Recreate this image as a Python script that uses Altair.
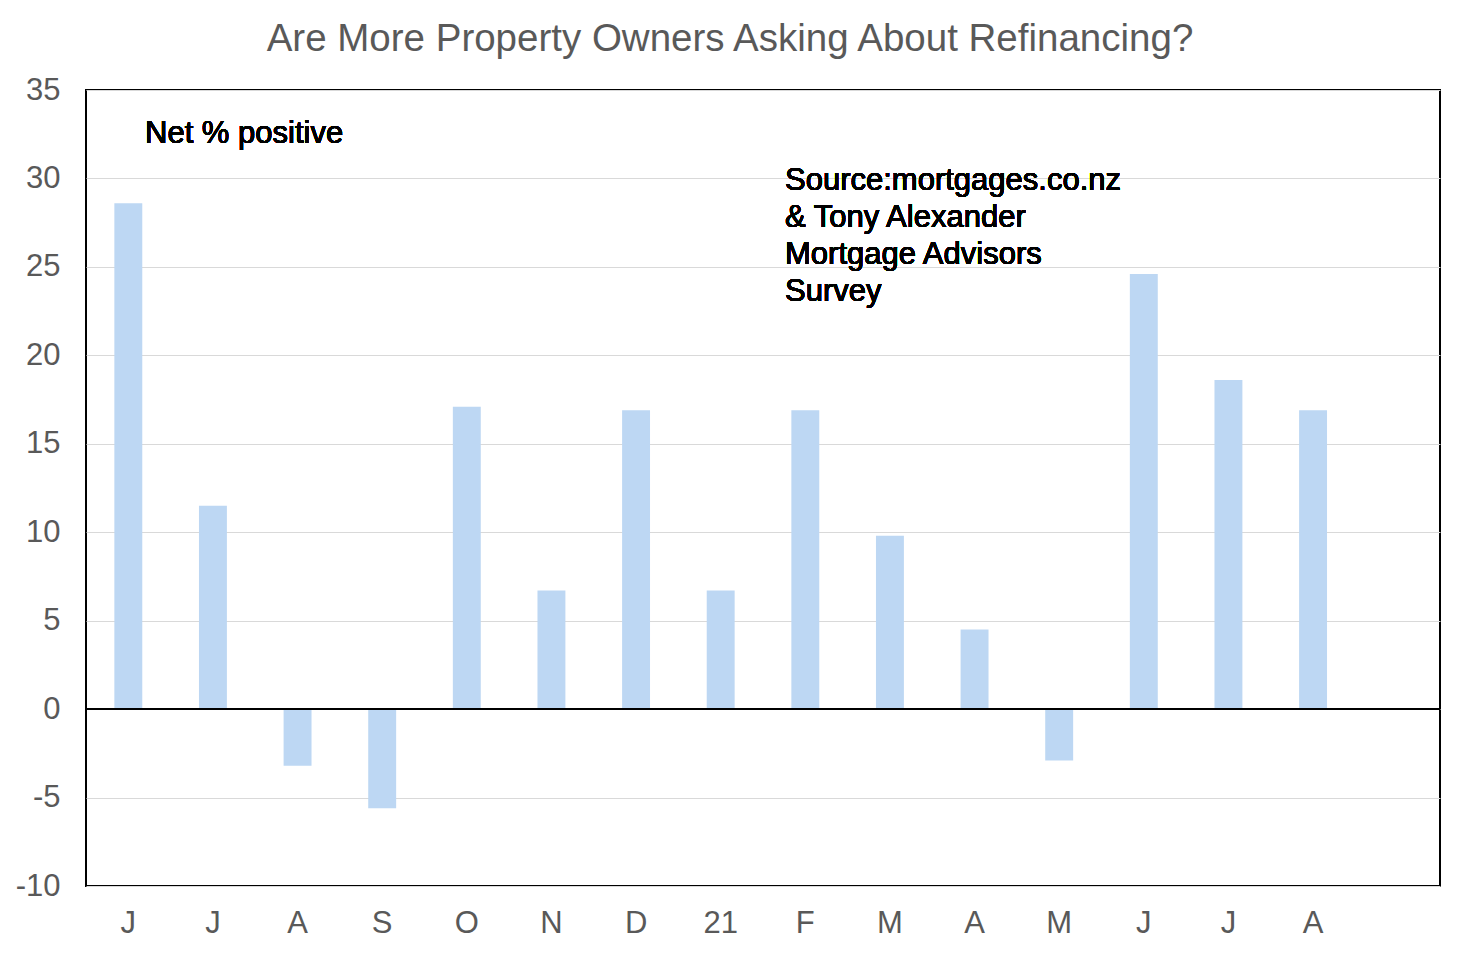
import altair as alt
import pandas as pd

labels = ["J", "J", "A", "S", "O", "N", "D", "21", "F", "M", "A", "M", "J", "J", "A", ""]
values = [28.6, 11.5, -3.2, -5.6, 17.1, 6.7, 16.9, 6.7, 16.9, 9.8, 4.5, -2.9, 24.6, 18.6, 16.9]
y_ticks = [-10, -5, 0, 5, 10, 15, 20, 25, 30, 35]

df = pd.DataFrame({"idx": list(range(len(values))), "value": values})

label_expr = "[" + ",".join("'%s'" % l for l in labels) + "][datum.value]"

FONT = "Liberation Sans"

x_enc = alt.X(
    "idx:O",
    scale=alt.Scale(domain=list(range(len(labels))), paddingInner=0.67, paddingOuter=0.335),
    axis=alt.Axis(
        title=None, labelExpr=label_expr, labelAngle=0, ticks=False, domain=False,
        labelFont=FONT, labelFontSize=31, labelColor="#595959", labelPadding=22,
    ),
)
y_enc = alt.Y(
    "value:Q",
    scale=alt.Scale(domain=[-10, 35], nice=False, zero=False),
    axis=alt.Axis(
        title=None, values=y_ticks, ticks=False, domain=False, grid=True,
        gridColor="#d9d9d9", gridWidth=1, labelExpr="'' + datum.value",
        labelFont=FONT, labelFontSize=31, labelColor="#595959", labelPadding=26,
    ),
)

bars = alt.Chart(df).mark_bar(color="#BDD7F3").encode(x=x_enc, y=y_enc)

zero = alt.Chart(df).mark_rule(color="black", strokeWidth=1.5).encode(y=alt.datum(0))

note1 = alt.Chart(df).mark_text(
    text="Net % positive", align="left", baseline="alphabetic",
    font=FONT, fontSize=31, color="black",
).encode(x=alt.value(59), y=alt.value(53))

note2 = alt.Chart(df).mark_text(
    text="Source:mortgages.co.nz\n& Tony Alexander\nMortgage Advisors\nSurvey",
    lineBreak="\n", lineHeight=37, align="left", baseline="alphabetic",
    font=FONT, fontSize=31, color="black",
).encode(x=alt.value(699), y=alt.value(100))

chart = alt.layer(bars, zero, note1, note2).properties(
    width=1354,
    height=796,
    title=alt.TitleParams(
        "Are More Property Owners Asking About Refinancing?",
        font=FONT, fontSize=38.5, fontWeight="normal", color="#595959",
        anchor="middle", dx=-33, offset=15,
    ),
    autosize=alt.AutoSizeParams(type="none"),
    padding={"left": 78, "top": 82, "right": 14, "bottom": 60},
).configure(background="white").configure_view(stroke="black", strokeWidth=2)

chart.save("out.html", embed_options={"renderer": "svg", "actions": False})
